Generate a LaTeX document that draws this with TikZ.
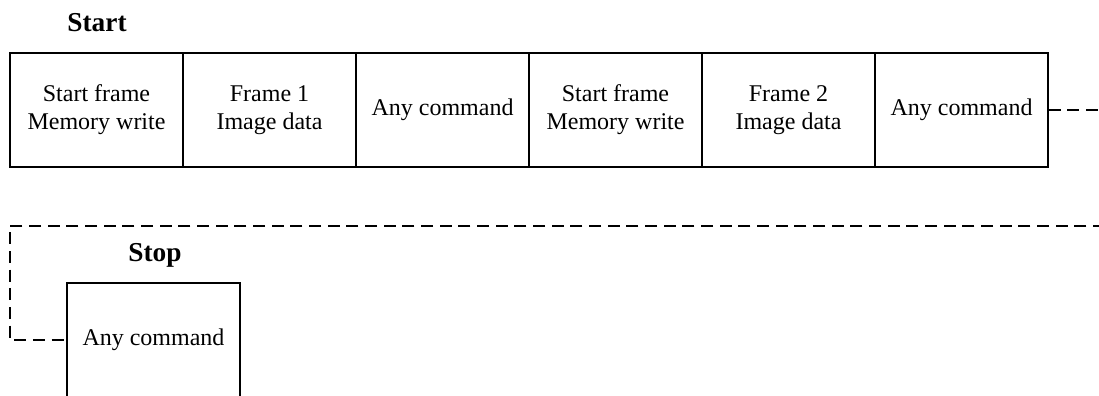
\documentclass[tikz,border=0pt]{standalone}
\usepackage{fontspec}
\setmainfont{Liberation Serif}
\begin{document}
\begin{tikzpicture}[x=0.75pt,y=-0.75pt,
  cell/.style={draw,line width=1pt,rectangle,minimum width=129.75pt,minimum height=85.5pt,
    inner sep=0pt,align=center,font=\fontsize{18}{21}\selectfont},
  title/.style={font=\fontsize{20.5}{24}\selectfont\bfseries,inner sep=0pt},
  dash line/.style={line width=1pt,dash pattern=on 9pt off 5pt}]
\useasboundingbox (0,0) rectangle (1099,396);
\clip (0,0) rectangle (1099,396);
\node[cell] (f1) at (96.5,110) {Start frame\\Memory write};
\node[cell] (f2) at (269.5,110) {Frame 1\\Image data};
\node[cell] (f3) at (442.5,110) {Any command};
\node[cell] (f4) at (615.5,110) {Start frame\\Memory write};
\node[cell] (f5) at (788.5,110) {Frame 2\\Image data};
\node[cell] (f6) at (961.5,110) {Any command};
\node[title] (start) at (97,23) {Start};
\node[cell] (stop) at (153.5,340) {Any command};
\node[title] (stoplbl) at (155,255) {Stop};
\coordinate (r1) at (1105,110);
\coordinate (r2) at (1105,226);
\coordinate (c1) at (10,226);
\draw[dash line] (f6.east) -- (r1);
\draw[dash line] (r2) -- (c1) |- (stop.west);
\end{tikzpicture}
\end{document}
